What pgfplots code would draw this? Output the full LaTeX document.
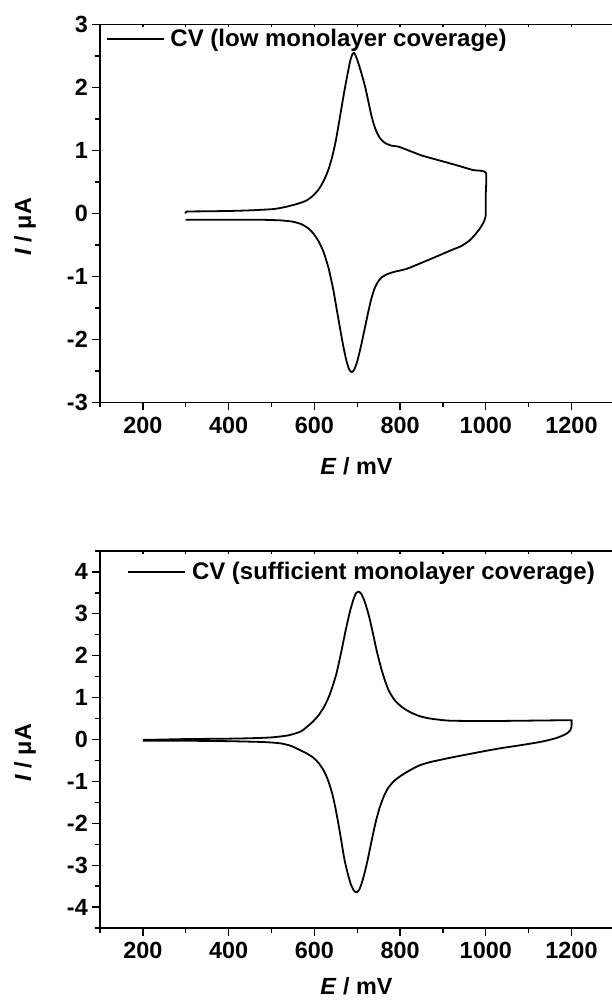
\documentclass[border=0pt]{standalone}
\usepackage{fontspec}
\setmainfont{Liberation Sans}
\usepackage{pgfplots}
\pgfplotsset{compat=1.18}
\pgfplotsset{
  cvaxis/.style={
    scale only axis, width=513.5pt,
    xmin=100, xmax=1298,
    xtick pos=bottom, ytick pos=left,
    tick align=outside,
    xtick={200,400,...,1200},
    minor xtick={100,300,...,1100},
    major tick length=8pt, minor tick length=5pt,
    tick style={black, line width=1.3pt},
    axis line style={line width=1.6pt},
    /pgf/number format/assume math mode=true,
    /pgf/number format/1000 sep={},
    tick label style={font=\fontsize{23.4}{28}\selectfont\bfseries},
    xticklabel style={inner sep=0pt, yshift=-6pt},
    yticklabel style={inner sep=0pt, xshift=-4pt},
    xlabel={\textit{E} / mV},
    ylabel={\textit{I} / μA},
    every axis x label/.style={at={(axis description cs:0.4995,0)}, anchor=center, yshift=-64pt, font=\fontsize{23.4}{28}\selectfont\bfseries},
    every axis y label/.style={at={(axis description cs:-0.146,0.465)}, anchor=center, rotate=90, font=\fontsize{23.4}{28}\selectfont\bfseries},
    legend style={draw=none, fill=none, font=\fontsize{24}{28}\selectfont\bfseries, inner sep=0pt, column sep=3pt, nodes={inner sep=3pt}},
    legend cell align=left,
    legend image code/.code={\draw[#1] (0pt,0pt) -- (57pt,0pt);},
  }
}
\begin{document}
\begin{tikzpicture}
\useasboundingbox (0,0) rectangle (612pt,1002pt);
\begin{axis}[cvaxis, at={(100pt,599.5pt)}, anchor=south west, height=378pt,
  ymin=-3, ymax=3, ytick={-3,-2,...,3}, minor ytick={-2.5,-1.5,...,2.5},
  legend style={at={(axis description cs:0.0107,0.9616)}, anchor=west}]
\addplot[black, line width=1.8pt, line join=round, smooth, tension=0.35] coordinates {
(300,0.0) (302,0.03) (350,0.035) (400,0.04) (450,0.05) (504,0.07) (530,0.1) (559,0.15) (580,0.2) (595,0.27) (610,0.38) (622,0.52) (632,0.68) (641,0.88) (650,1.15) (660,1.54) (669,1.9) (678,2.23) (684,2.43) (689,2.53) (693,2.55) (698,2.48) (704,2.36) (711,2.2) (719,2.0) (726,1.78) (733,1.56) (740,1.39) (747,1.27) (755,1.18) (765,1.12) (778,1.08) (797,1.06) (820,1.0) (851,0.92) (893,0.84) (930,0.77) (970,0.69) (1000,0.65) (1000,0.3) (1000,0.0) (999,-0.06) (995,-0.14) (985,-0.25) (972,-0.36) (960,-0.44) (942,-0.52) (920,-0.58) (893,-0.66) (851,-0.78) (815,-0.88) (790,-0.92) (775,-0.95) (765,-0.98) (756,-1.02) (748,-1.09) (740,-1.2) (732,-1.38) (724,-1.62) (716,-1.88) (708,-2.13) (700,-2.35) (693,-2.48) (687,-2.52) (681,-2.47) (675,-2.34) (668,-2.12) (661,-1.86) (653,-1.55) (644,-1.2) (633,-0.86) (621,-0.6) (609,-0.43) (598,-0.32) (587,-0.24) (570,-0.17) (550,-0.13) (523,-0.11) (480,-0.1) (400,-0.1) (300,-0.1)
};
\addlegendentry{CV (low monolayer coverage)}
\pgfplotsinvokeforeach{100,200,...,1200}{\draw[line width=1.3pt] (axis cs:#1,3) -- ++(0pt,-3pt);}
\end{axis}
\begin{axis}[cvaxis, at={(100pt,74pt)}, anchor=south west, height=377pt,
  ymin=-4.5, ymax=4.5, ytick={-4,-3,...,4}, minor ytick={-4.5,-3.5,...,4.5},
  every axis x label/.append style={yshift=6pt},
  legend style={at={(axis description cs:0.0526,0.9443)}, anchor=west}]
\addplot[black, line width=1.8pt, line join=round, smooth, tension=0.35] coordinates {
(200,-0.01) (250,0.0) (300,0.01) (400,0.02) (450,0.03) (500,0.05) (540,0.1) (570,0.2) (596,0.42) (610,0.58) (623,0.78) (637,1.1) (651,1.55) (662,2.05) (673,2.6) (683,3.05) (692,3.37) (698,3.5) (704,3.53) (710,3.47) (718,3.28) (728,2.93) (737,2.52) (746,2.1) (756,1.7) (765,1.4) (774,1.16) (788,0.93) (805,0.77) (824,0.65) (845,0.56) (870,0.5) (915,0.45) (1000,0.44) (1100,0.45) (1195,0.46) (1200,0.44) (1200,0.3) (1197,0.22) (1190,0.15) (1181,0.1) (1160,0.02) (1126,-0.06) (1079,-0.14) (1040,-0.2) (1006,-0.26) (960,-0.35) (915,-0.44) (870,-0.54) (845,-0.62) (822,-0.74) (800,-0.88) (785,-1.0) (772,-1.16) (762,-1.36) (752,-1.64) (743,-1.98) (734,-2.4) (725,-2.85) (717,-3.2) (710,-3.45) (704,-3.6) (698,-3.65) (692,-3.6) (685,-3.45) (678,-3.2) (670,-2.85) (663,-2.42) (656,-2.0) (649,-1.62) (642,-1.3) (633,-1.0) (623,-0.76) (610,-0.56) (596,-0.42) (580,-0.32) (568,-0.26) (545,-0.15) (520,-0.09) (480,-0.06) (400,-0.04) (300,-0.03) (200,-0.03)
};
\addlegendentry{CV (sufficient monolayer coverage)}
\pgfplotsinvokeforeach{100,200,...,1200}{\draw[line width=1.3pt] (axis cs:#1,4.5) -- ++(0pt,-3pt);}
\end{axis}
\end{tikzpicture}
\end{document}
